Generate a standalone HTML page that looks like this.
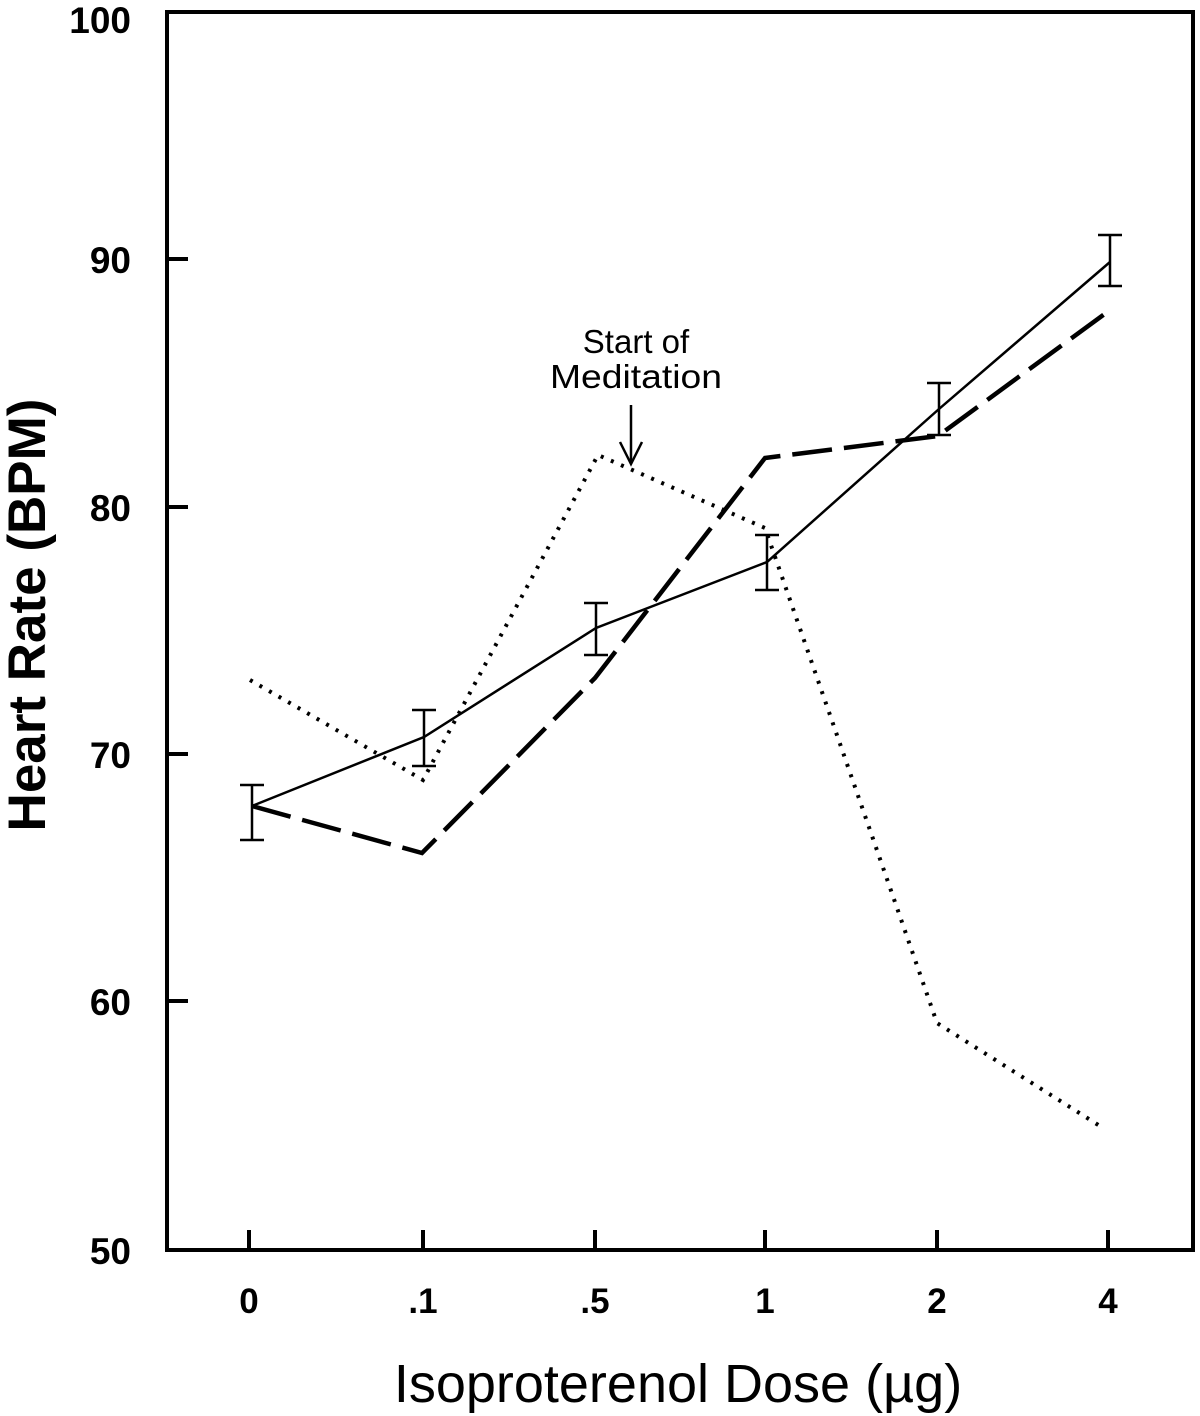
<!DOCTYPE html>
<html><head><style>body{margin:0;background:#fff}svg{display:block}</style></head>
<body>
<svg width="1200" height="1416" xmlns="http://www.w3.org/2000/svg" font-family="Liberation Sans, Arial, sans-serif">
<rect width="1200" height="1416" fill="#fff"/>
<path d="M167,1250 V12 H1193 V1250 Z" fill="none" stroke="#000" stroke-width="4"/>
<g stroke="#000" stroke-width="4">
<line x1="167" y1="259" x2="188" y2="259"/><line x1="167" y1="507" x2="188" y2="507"/>
<line x1="167" y1="754" x2="188" y2="754"/><line x1="167" y1="1001" x2="188" y2="1001"/>
<line x1="249" y1="1250" x2="249" y2="1230"/><line x1="423" y1="1250" x2="423" y2="1230"/>
<line x1="595" y1="1250" x2="595" y2="1230"/><line x1="765" y1="1250" x2="765" y2="1230"/>
<line x1="937" y1="1250" x2="937" y2="1230"/><line x1="1108" y1="1250" x2="1108" y2="1230"/>
</g>
<g font-size="37" font-weight="bold" text-anchor="end">
<text x="131" y="33">100</text><text x="131" y="273">90</text><text x="131" y="521">80</text>
<text x="131" y="768">70</text><text x="131" y="1015">60</text><text x="131" y="1264">50</text>
</g>
<g font-size="35" font-weight="bold" text-anchor="middle">
<text x="249" y="1313">0</text><text x="423" y="1313">.1</text><text x="595" y="1313">.5</text>
<text x="765" y="1313">1</text><text x="937" y="1313">2</text><text x="1108" y="1313">4</text>
</g>
<text x="678" y="1402" font-size="54" text-anchor="middle">Isoproterenol Dose (µg)</text>
<text transform="translate(45,615) rotate(-90)" font-size="53" font-weight="bold" text-anchor="middle">Heart Rate (BPM)</text>
<text x="636" y="353" font-size="33" text-anchor="middle">Start of</text>
<text x="636" y="388" font-size="33" text-anchor="middle" textLength="172" lengthAdjust="spacingAndGlyphs">Meditation</text>
<g stroke="#000" stroke-width="2.5" fill="none">
<line x1="631" y1="405" x2="631" y2="464"/><polyline points="620,442 631,464 642,442"/>
</g>
<polyline points="250,680 423,780 598,455 765,528 937,1023 1103,1128" fill="none" stroke="#000" stroke-width="4" stroke-dasharray="3,8"/>
<polyline points="252,806 422,853 595,678 765,458 938,436 1110,310" fill="none" stroke="#000" stroke-width="4.5" stroke-dasharray="40,12"/>
<polyline points="252,806 424,737 596,628 767,562 939,409 1110,262" fill="none" stroke="#000" stroke-width="2.5"/>
<g stroke="#000" stroke-width="2.5">
<path d="M252,785V840M240,785H264M240,840H264"/>
<path d="M424,710V766M412,710H436M412,766H436"/>
<path d="M596,603V655M584,603H608M584,655H608"/>
<path d="M767,535V590M755,535H779M755,590H779"/>
<path d="M939,383V435M927,383H951M927,435H951"/>
<path d="M1110,235V286M1098,235H1122M1098,286H1122"/>
</g>
</svg>
</body></html>
